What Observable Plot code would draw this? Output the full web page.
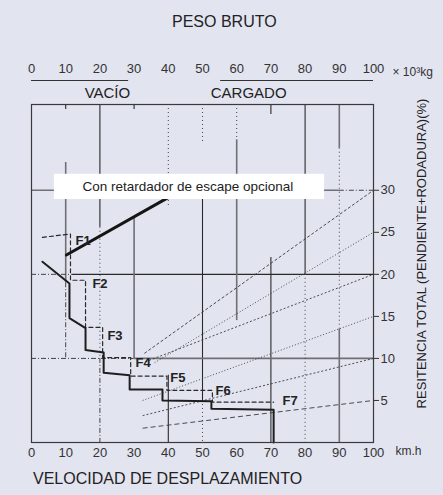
<!DOCTYPE html>
<html>
<head>
<meta charset="utf-8">
<script src="https://cdn.jsdelivr.net/npm/d3@7"></script>
<script src="https://cdn.jsdelivr.net/npm/@observablehq/plot@0.6"></script>
<style>
  html, body { margin: 0; padding: 0; background: #e2e4f0; }
  body { width: 443px; height: 495px; overflow: hidden; font-family: "Liberation Sans", Arial, sans-serif; color: #222; }
  #title { height: 40px; box-sizing: border-box; padding-top: 13px; padding-left: 172px; line-height: 18px; font-size: 16px; text-align: left; }
  #foot { height: 25px; line-height: 18px; font-size: 16px; padding-left: 33px; }
  svg { display: block; }
</style>
</head>
<body>
<div id="title">PESO BRUTO</div>
<div id="chart"></div>
<div id="foot">VELOCIDAD DE DESPLAZAMIENTO</div>
<script>
// ---- tick labels ----
const speedTicks = [0, 10, 20, 30, 40, 50, 60, 70, 80, 90, 100];
const weightTicks = [0, 10, 20, 30, 40, 50, 60, 70, 80, 90, 100];
const resistTicks = [5, 10, 15, 20, 25, 30];

// ---- main braking curve (without retarder) ----
const mainSpeed  = [3.2, 11.1, 11.1, 15.8, 15.8, 21.1, 21.1, 28.7, 28.7, 38.3, 38.3, 52.6, 52.6, 70.8, 70.8];
const mainResist = [21.5, 18.9, 14.8, 13.6, 11.0, 10.7, 8.3, 8.0, 6.3, 6.3, 5.0, 4.9, 4.0, 3.9, 0];

// ---- gear limit curve (F1..F7) ----
const gearSpeed  = [3.2, 11.4, 11.4, 15.8, 15.8, 20.8, 20.8, 29.0, 29.0, 39.6, 39.6, 52.9, 52.9, 70.8];
const gearResist = [24.4, 24.8, 19.3, 19.3, 13.7, 13.7, 10.1, 10.1, 7.9, 7.9, 6.2, 6.2, 4.8, 4.8];
const gearNames       = ["F1", "F2", "F3", "F4", "F5", "F6", "F7"];
const gearLabelSpeed  = [12.9, 17.8, 22.2, 30.4, 40.6, 53.8, 73.4];
const gearLabelResist = [24.0, 18.9, 12.7, 9.5, 7.7, 6.2, 5.0];

// ---- optional exhaust retarder ----
const retarderSpeed  = [10.2, 42];
const retarderResist = [22.3, 29.6];

// ---- weight (grade) lines ----
const gradeStartSpeed  = [33, 36, 33.3, 32.5, 32.5, 32.5];
const gradeStartResist = [10.6, 9.5, 9.6, 5.0, 3.2, 1.7];
const gradeEndSpeed    = [100, 100, 100, 100, 100, 100];
const gradeEndResist   = [30, 25, 20, 15, 10, 5];

// ---- grid segments ----
const gridVSpeed = [10, 10, 10, 20, 20, 20, 30, 30, 40, 40, 50, 50, 50, 60, 60, 70, 70, 80, 80, 90, 90, 90];
const gridVFrom  = [40.2, 33.3, 19, 40.2, 25.6, 10, 40.2, 26.7, 40.2, 8, 40.2, 29, 5, 40.2, 36, 40.2, 22, 40.2, 20, 40.2, 35, 13.5];
const gridVTo    = [39.6, 19, 10, 25.6, 10, 0, 39.6, 10, 28, 0, 35.6, 5, 0, 36, 14.5, 39, 0, 20, 0, 35, 13.5, 0];
const gridVType  = ["dark", "gray", "dashdot", "dark", "dotted", "dashdot", "dark", "gray", "dotted", "dark", "dotted", "dark", "dotted", "dotted", "gray", "dark", "dark", "dark", "dotted", "gray", "dotted", "gray"];
const gridHResist = [30, 30, 20, 20, 10, 10];
const gridHFrom   = [0, 90, 0, 12, 0, 30];
const gridHTo     = [90, 100, 12, 100, 30, 100];
const gridHType   = ["gray", "dashdot", "dashdot", "dark", "dashdot", "gray"];

// ---- weight brackets above the frame ----
const bracketFrom = [0, 55.3];
const bracketTo   = [28.4, 100];
const bracketNames = ["VACÍO", "CARGADO"];
const bracketLabelWeight = [22.2, 63.5];

// ---- note box ----
const noteText = "Con retardador de escape opcional";
const noteBox = {x1: 6.7, x2: 85.7, y1: 28.9, y2: 31.9};
const noteAnchor = {x: 14.9, y: 30.4};

// ---- styles (kept separate from data) ----
const lineStyles = {
  dark:    {stroke: "#2a2a2a", strokeWidth: 1.1},
  gray:    {stroke: "#6f6f74", strokeWidth: 1.6},
  dotted:  {stroke: "#444", strokeWidth: 1, strokeDasharray: "1,3"},
  dashdot: {stroke: "#444", strokeWidth: 1, strokeDasharray: "5,2,1,2"}
};
const gradeDash = ["3,2", "1,2", "2,2", "1,2", "2,2", "5,3"];

// build tables
const mainPts = mainSpeed.map((s, i) => ({speed: s, resist: mainResist[i]}));
const gearPts = gearSpeed.map((s, i) => ({speed: s, resist: gearResist[i]}));
const gearLbl = gearNames.map((n, i) => ({name: n, speed: gearLabelSpeed[i], resist: gearLabelResist[i]}));
const retPts = retarderSpeed.map((s, i) => ({speed: s, resist: retarderResist[i]}));
const grades = gradeStartSpeed.map((s, i) => ({x1: s, y1: gradeStartResist[i], x2: gradeEndSpeed[i], y2: gradeEndResist[i]}));
const vSegs = gridVSpeed.map((x, i) => ({x, y1: gridVFrom[i], y2: gridVTo[i], t: gridVType[i]}));
const hSegs = gridHResist.map((y, i) => ({y, x1: gridHFrom[i], x2: gridHTo[i], t: gridHType[i]}));
const brackets = bracketFrom.map((f, i) => ({x1: f, x2: bracketTo[i]}));
const bracketLbl = bracketNames.map((n, i) => ({name: n, w: bracketLabelWeight[i]}));

const yTop = 40.2;
const bracketLevel = yTop + 24 / 8.4;
const bracketLabelLevel = yTop + 11 / 8.4;

const marks = [];
for (const [t, s] of Object.entries(lineStyles)) {
  marks.push(Plot.ruleX(vSegs.filter(d => d.t === t), {x: "x", y1: "y1", y2: "y2", ...s}));
  marks.push(Plot.ruleY(hSegs.filter(d => d.t === t), {y: "y", x1: "x1", x2: "x2", ...s}));
}
grades.forEach((g, i) => {
  marks.push(Plot.link([g], {x1: "x1", y1: "y1", x2: "x2", y2: "y2", stroke: "#3a3a3a", strokeWidth: 0.9, strokeDasharray: gradeDash[i]}));
});
marks.push(
  Plot.line(gearPts, {x: "speed", y: "resist", stroke: "#2a2a2a", strokeWidth: 1.2, strokeDasharray: "4,3"}),
  Plot.line(mainPts, {x: "speed", y: "resist", stroke: "#1e1e1e", strokeWidth: 2}),
  Plot.line(retPts, {x: "speed", y: "resist", stroke: "#151515", strokeWidth: 3}),
  Plot.rect([noteBox], {x1: "x1", x2: "x2", y1: "y1", y2: "y2", fill: "white"}),
  Plot.text([noteText], {x: noteAnchor.x, y: noteAnchor.y, text: d => d, textAnchor: "start", fontSize: 13.5, fill: "#222"}),
  Plot.text(gearLbl, {x: "speed", y: "resist", text: "name", textAnchor: "start", fontSize: 13, fontWeight: "bold", fill: "#222"}),
  Plot.frame({stroke: "#3a3a3a", strokeWidth: 1.2}),
  // axes
  Plot.axisX({anchor: "bottom", ticks: speedTicks, tickSize: 0, tickPadding: 5, label: null, fontSize: 13, fill: "#333"}),
  Plot.axisX({anchor: "top", ticks: weightTicks, tickSize: 0, tickPadding: 32, label: null, fontSize: 13, fill: "#333"}),
  Plot.axisY({anchor: "right", ticks: resistTicks, tickSize: 5, tickPadding: 2, label: null, fontSize: 13, fill: "#333", stroke: "#333"}),
  // weight brackets
  Plot.ruleY(brackets, {y: bracketLevel, x1: "x1", x2: "x2", stroke: "#333", strokeWidth: 1.2}),
  Plot.text(bracketLbl, {x: "w", y: bracketLabelLevel, text: "name", fontSize: 15, fill: "#222"}),
  // unit labels
  Plot.text(["× 10³kg"], {frameAnchor: "top-right", text: d => d, textAnchor: "start", dx: 19, dy: -37, fontSize: 12, fill: "#333"}),
  Plot.text(["km.h"], {frameAnchor: "bottom-right", text: d => d, textAnchor: "start", dx: 22, dy: 12, fontSize: 12, fill: "#333"}),
  Plot.text(["RESITENCIA TOTAL (PENDIENTE+RODADURA)(%)"], {frameAnchor: "right", text: d => d, rotate: -90, textAnchor: "middle", lineAnchor: "middle", dx: 48, dy: -20, fontSize: 13, fill: "#222"})
);

const chart = Plot.plot({
  width: 443,
  height: 430,
  marginLeft: 31,
  marginRight: 70,
  marginTop: 64,
  marginBottom: 28,
  x: {domain: [0, 100]},
  y: {domain: [0, yTop]},
  style: {background: "transparent", fontFamily: "Liberation Sans, Arial, sans-serif", fontSize: "13px", color: "#333", overflow: "visible"},
  marks
});
document.getElementById("chart").append(chart);
</script>
</body>
</html>
